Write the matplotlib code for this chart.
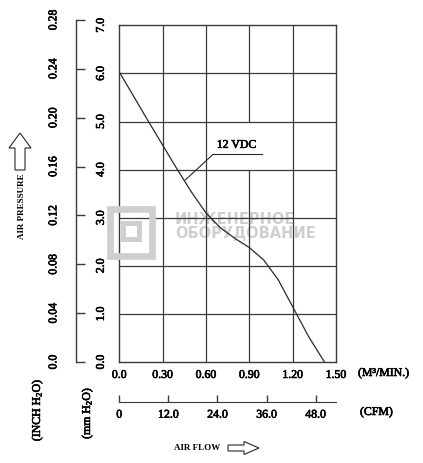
import matplotlib
matplotlib.use("Agg")
import matplotlib.pyplot as plt
from matplotlib.patches import Rectangle, FancyArrow
from matplotlib.text import Text
import matplotlib.patheffects as pe

plt.rcParams['font.family'] = ['Liberation Serif', 'DejaVu Serif']
plt.rcParams['mathtext.fontset'] = 'custom'
plt.rcParams['mathtext.rm'] = 'Liberation Serif'
plt.rcParams['mathtext.it'] = 'Liberation Serif'

# ---- data ----
flow_m3min = [0.0, 0.10, 0.20, 0.30, 0.40, 0.50, 0.60, 0.70, 0.80, 0.90, 1.00, 1.10, 1.20, 1.31, 1.42]
pressure_mm = [6.03, 5.52, 5.01, 4.51, 4.01, 3.53, 3.10, 2.79, 2.57, 2.38, 2.12, 1.71, 1.15, 0.53, 0.0]

flow_ticks = [0.0, 0.30, 0.60, 0.90, 1.20, 1.50]
flow_labels = ["0.0", "0.30", "0.60", "0.90", "1.20", "1.50"]
mm_ticks = [0, 1, 2, 3, 4, 5, 6, 7]
mm_labels = ["0.0", "1.0", "2.0", "3.0", "4.0", "5.0", "6.0", "7.0"]
inch_ticks = [0.0, 0.04, 0.08, 0.12, 0.16, 0.20, 0.24, 0.28]
inch_labels = ["0.0", "0.04", "0.08", "0.12", "0.16", "0.20", "0.24", "0.28"]
cfm_ticks = [0, 12, 24, 36, 48]
cfm_labels = ["0", "12.0", "24.0", "36.0", "48.0"]
curve_label = "12 VDC"

W, H = 423, 463
fig = plt.figure(figsize=(W / 100, H / 100), dpi=100)

def fx(px):
    return px / W

def fy(py):
    return 1 - py / H

L, R, T, B = 119.3, 336.0, 25.3, 362.0
ax = fig.add_axes([fx(L), fy(B), fx(R) - fx(L), (B - T) / H])
ax.set_xlim(0, 1.5)
ax.set_ylim(0, 7)
ink = '#2a2a2a'
gridc = '#3a3a3a'
txtc = '#000000'
fs = 8.5

# grid (0.90 line interrupted behind label)
for xv in flow_ticks[1:-1]:
    if abs(xv - 0.9) < 1e-9:
        ax.vlines(xv, 0, 4, color=gridc, lw=0.9, zorder=2)
        ax.vlines(xv, 5, 7, color=gridc, lw=0.9, zorder=2)
    else:
        ax.vlines(xv, 0, 7, color=gridc, lw=0.9, zorder=2)
for yv in mm_ticks[1:-1]:
    ax.hlines(yv, 0, 1.5, color=gridc, lw=0.9, zorder=2)

for s in ax.spines.values():
    s.set_color(gridc)
    s.set_linewidth(1.0)

ax.set_xticks(flow_ticks)
ax.set_xticklabels(flow_labels)
ax.set_yticks(mm_ticks)
ax.set_yticklabels(mm_labels, rotation=90, va='center')
ax.tick_params(axis='both', length=0, labelsize=fs, colors=txtc)
ax.tick_params(axis='x', pad=5)
ax.tick_params(axis='y', pad=9)

ax.plot(flow_m3min, pressure_mm, color=ink, lw=0.9, zorder=4, solid_joinstyle='round')

# annotation
ax.annotate("", xy=(0.455, 3.78), xytext=(0.65, 4.32), textcoords='data',
            arrowprops=dict(arrowstyle='-', color=ink, lw=0.8, shrinkA=0, shrinkB=0), zorder=5)
ax.plot([0.65, 0.985], [4.32, 4.32], color=ink, lw=0.8, zorder=5)
ax.text(0.675, 4.39, curve_label, fontsize=fs, ha='left', va='bottom', color=txtc, zorder=5)

# watermark
wm = '#cfcfcf'
def ring(x0, y0, x1, y1, t):
    r = Rectangle((fx(x0 + t / 2), fy(y1 - t / 2)), fx(x1 - x0 - t), (y1 - y0 - t) / H,
                  fill=False, ec=wm, lw=t * 0.72, transform=fig.transFigure, zorder=0.5)
    fig.patches.append(r)
ring(106.7, 206.0, 155.0, 259.3, 6.7)
ring(120.0, 220.0, 141.7, 241.7, 5.0)
wm_texts = []
wm_texts.append(ax.text(0.385, 2.97, "ИНЖЕНЕРНОЕ", fontsize=10.5, color=wm, family='DejaVu Sans',
                        weight='bold', ha='left', va='center', zorder=1))
wm_texts.append(ax.text(0.385, 2.67, "ОБОРУДОВАНИЕ", fontsize=10.5, color=wm, family='DejaVu Sans',
                        weight='bold', ha='left', va='center', zorder=1))

# inch axis
inch_top = 0.28
ax2_h = (B - T) / H * (inch_top * 25.4 / 7)
ax2 = fig.add_axes([fx(76), fy(B), 0.001, ax2_h])
ax2.set_ylim(0, inch_top)
ax2.patch.set_visible(False)
for k in ['top', 'right', 'bottom']:
    ax2.spines[k].set_visible(False)
ax2.spines['left'].set_color(gridc)
ax2.spines['left'].set_linewidth(1.0)
ax2.set_xticks([])
ax2.set_yticks(inch_ticks)
ax2.set_yticklabels(inch_labels, rotation=90, va='center')
ax2.tick_params(axis='y', direction='in', length=6.5, width=1.0, color=gridc, labelsize=fs, pad=12,
                labelcolor=txtc)

# CFM axis
cfm_per_m3 = 35.3147
ax3 = fig.add_axes([fx(L), fy(401.7), fx(R) - fx(L), 0.001])
ax3.set_xlim(0, 1.5 * cfm_per_m3)
ax3.patch.set_visible(False)
for k in ['top', 'right', 'left']:
    ax3.spines[k].set_visible(False)
ax3.spines['bottom'].set_color(gridc)
ax3.set_yticks([])
ax3.set_xticks(cfm_ticks)
ax3.set_xticklabels(cfm_labels)
ax3.tick_params(axis='x', direction='in', length=5, width=1.0, color=gridc, labelsize=fs, pad=5,
                labelcolor=txtc)

# unit labels
fig.text(fx(358), fy(373), "(M³/MIN.)", fontsize=fs, ha='left', va='center', color=txtc)
fig.text(fx(360), fy(412), "(CFM)", fontsize=fs, ha='left', va='center', color=txtc)
fig.text(fx(37), fy(410), r"(INCH H$_2$O)", fontsize=fs, rotation=90, ha='center', va='center', color=txtc)
fig.text(fx(87), fy(413), r"(mm H$_2$O)", fontsize=fs, rotation=90, ha='center', va='center', color=txtc)

# axis titles with arrows
fig.text(fx(22), fy(206), "AIR PRESSURE", fontsize=6.5, rotation=90, ha='center', va='center',
         color=txtc, weight='bold')
fig.text(fx(197), fy(448), "AIR FLOW", fontsize=6.5, ha='center', va='center', color=txtc, weight='bold')

up = FancyArrow(fx(20), fy(170), 0, (170 - 133) / H, width=(25 - 14) / H, head_width=fx(22),
                head_length=(148 - 133) / H, length_includes_head=True, transform=fig.transFigure,
                fill=False, ec=ink, lw=0.8)
fig.patches.append(up)
right = FancyArrow(fx(228), fy(448), fx(259) - fx(228), 0, width=6 / H, head_width=13 / H,
                   head_length=fx(15), length_includes_head=True, transform=fig.transFigure,
                   fill=False, ec=ink, lw=0.8)
fig.patches.append(right)

# slightly heavier strokes for the printed look
fig.canvas.draw()
for t in fig.findobj(Text):
    if t in wm_texts or not t.get_text():
        continue
    if t.get_weight() in ('bold', 700):
        continue
    t.set_path_effects([pe.withStroke(linewidth=0.45, foreground=t.get_color())])

fig.savefig("out.png", dpi=100)
